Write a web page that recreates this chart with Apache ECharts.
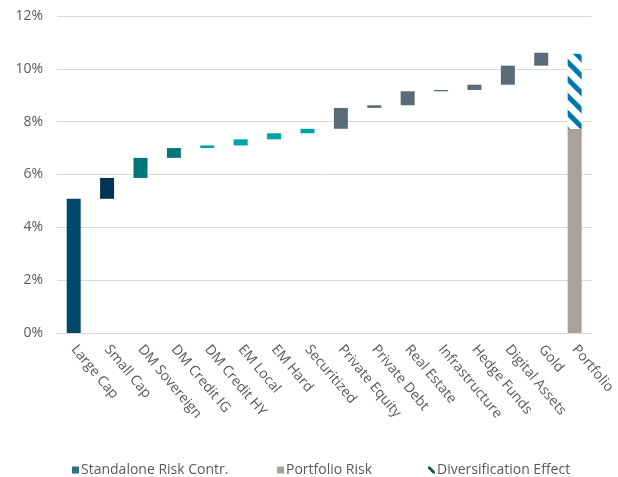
<!DOCTYPE html>
<html>
<head>
<meta charset="utf-8"/>
<title>Risk contribution waterfall</title>
<script src="https://cdn.jsdelivr.net/npm/echarts@6/dist/echarts.min.js"></script>
<style>
  html, body { margin: 0; padding: 0; background: #fff; }
  #container { width: 618px; height: 477px; }
</style>
</head>
<body>
<div id="container"></div>
<script type="text/javascript">
    // categories along the x axis
    var categories = ['Large Cap', 'Small Cap', 'DM Sovereign', 'DM Credit IG', 'DM Credit HY',
        'EM Local', 'EM Hard', 'Securitized', 'Private Equity', 'Private Debt', 'Real Estate',
        'Infrastructure', 'Hedge Funds', 'Digital Assets', 'Gold', 'Portfolio'];
    // standalone risk contribution of each asset class (%), the Portfolio slot is empty
    var contributions = [5.08, 0.79, 0.76, 0.37, 0.1, 0.23, 0.23, 0.17, 0.79, 0.1, 0.53, 0.05, 0.2, 0.72, 0.49, null];
    // colour of each contribution block
    var barColors = ['#00496B', '#003450', '#00767A', '#00767A', '#00A3A6', '#00A3A6', '#00A3A6', '#00A3A6',
        '#5B6B78', '#5B6B78', '#5B6B78', '#5B6B78', '#5B6B78', '#5B6B78', '#5B6B78', '#5B6B78'];
    // portfolio risk and diversification effect (%)
    var portfolioRisk = 7.73;
    var diversification = 2.84;
    var yTicks = [0, 2, 4, 6, 8, 10, 12];

    var fontName = '"Open Sans", "Noto Sans", sans-serif';

    // invisible base so that each block floats on top of the running total
    var base = [];
    var running = 0;
    for (var i = 0; i < categories.length; i++) {
        if (contributions[i] == null) {
            base.push(null);
        } else {
            base.push(running);
            running += contributions[i];
        }
    }
    var blocks = contributions.map(function (v, i) {
        return v == null ? null : {value: v, itemStyle: {color: barColors[i]}};
    });
    var portfolioData = categories.map(function (c, i) { return i == categories.length - 1 ? portfolioRisk : null; });
    var diversData = categories.map(function (c, i) { return i == categories.length - 1 ? diversification : null; });

    var myChart = echarts.init(document.getElementById('container'));

    var legendText = {color: '#595959', fontSize: 14, fontFamily: fontName, padding: [0, 0, 0, -3]};

    var option = {
        animation: false,
        grid: {
            left: 57,
            right: 25,
            top: 16,
            bottom: 144
        },
        legend: [{
            left: 67,
            top: 458,
            itemWidth: 7,
            itemHeight: 7,
            textStyle: legendText,
            data: [{name: 'Standalone Risk Contr.', icon: 'rect', itemStyle: {color: '#33707A'}}]
        }, {
            left: 272,
            top: 458,
            itemWidth: 7,
            itemHeight: 7,
            textStyle: legendText,
            data: [{name: 'Portfolio Risk', icon: 'rect'}]
        }, {
            left: 423,
            top: 458,
            itemWidth: 7,
            itemHeight: 7,
            textStyle: legendText,
            data: [{name: 'Diversification Effect', icon: 'path://M0,0 L3,0 L10,7 L10,10 L7,10 L0,3 Z',
                itemStyle: {color: '#1E5B3A', decal: 'none'}}]
        }],
        xAxis: {
            type: 'category',
            data: categories,
            axisLine: {lineStyle: {color: '#D9D9D9', width: 1}},
            axisTick: {show: false},
            axisLabel: {
                interval: 0,
                rotate: -50,
                margin: 14,
                color: '#595959',
                fontSize: 14,
                fontFamily: fontName
            }
        },
        yAxis: {
            type: 'value',
            min: yTicks[0],
            max: yTicks[yTicks.length - 1],
            interval: 2,
            axisLine: {show: false},
            axisTick: {show: false},
            splitLine: {lineStyle: {color: '#D9D9D9', width: 1}},
            axisLabel: {
                color: '#595959',
                fontSize: 14,
                fontFamily: fontName,
                margin: 14,
                formatter: '{value}%'
            }
        },
        series: [{
            name: 'base',
            type: 'bar',
            stack: 'total',
            barWidth: 14,
            itemStyle: {color: 'transparent'},
            emphasis: {disabled: true},
            data: base
        }, {
            name: 'Standalone Risk Contr.',
            type: 'bar',
            stack: 'total',
            barWidth: 14,
            itemStyle: {color: '#33707A'},
            data: blocks
        }, {
            name: 'Portfolio Risk',
            type: 'bar',
            stack: 'total',
            barWidth: 14,
            itemStyle: {color: '#ABA198'},
            data: portfolioData
        }, {
            name: 'Diversification Effect',
            type: 'bar',
            stack: 'total',
            barWidth: 14,
            itemStyle: {
                color: '#ffffff',
                decal: {
                    symbol: 'rect',
                    color: '#0077B0',
                    dashArrayX: [1, 0],
                    dashArrayY: [5, 7],
                    rotation: Math.PI / 4,
                    symbolSize: 1
                }
            },
            data: diversData
        }]
    };

    myChart.setOption(option);
</script>
</body>
</html>
